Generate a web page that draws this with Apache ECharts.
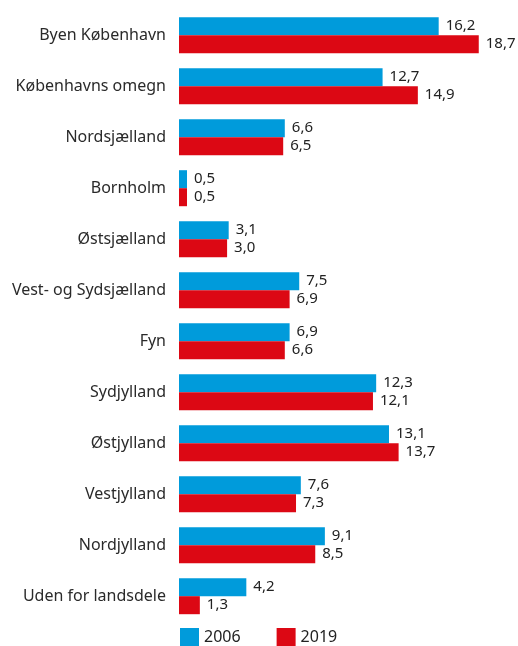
<!DOCTYPE html>
<html>
<head>
<meta charset="utf-8">
<script src="https://cdn.jsdelivr.net/npm/echarts@6/dist/echarts.min.js"></script>
<style>
html,body{margin:0;padding:0;background:#fff;}
#c{width:518px;height:646px;}
</style>
</head>
<body>
<div id="c"></div>
<script>
const categories = ["Byen København","Københavns omegn","Nordsjælland","Bornholm","Østsjælland","Vest- og Sydsjælland","Fyn","Sydjylland","Østjylland","Vestjylland","Nordjylland","Uden for landsdele"];
const values2006 = [16.2,12.7,6.6,0.5,3.1,7.5,6.9,12.3,13.1,7.6,9.1,4.2];
const values2019 = [18.7,14.9,6.5,0.5,3.0,6.9,6.6,12.1,13.7,7.3,8.5,1.3];
const seriesNames = ["2006","2019"];

const FONT = "Noto Sans";
const fmt = p => p.value.toFixed(1).replace('.', ',');
const chart = echarts.init(document.getElementById('c'), null, {renderer:'canvas'});
const labelCfg = {show:true, position:'right', distance:7, formatter:fmt, color:'#222', fontSize:15, fontFamily:FONT};
chart.setOption({
  animation:false,
  backgroundColor:'#fff',
  grid:{left:179, width:320.6, top:9.7, height:612},
  xAxis:{type:'value', min:0, max:20, show:false},
  yAxis:{type:'category', data:categories, inverse:true,
    axisLine:{show:false}, axisTick:{show:false}, splitLine:{show:false},
    axisLabel:{margin:13, color:'#2a2a2a', fontSize:16, fontFamily:FONT}},
  legend:{left:180, top:628, padding:0, itemWidth:19, itemHeight:18, itemGap:36, icon:'rect',
    textStyle:{fontSize:16, color:'#222', fontFamily:FONT}, data:seriesNames},
  series:[
    {name:seriesNames[0], type:'bar', data:values2006, barWidth:18, barGap:'0%', itemStyle:{color:'#009bdb'}, label:labelCfg},
    {name:seriesNames[1], type:'bar', data:values2019, barWidth:18, barGap:'0%', itemStyle:{color:'#dc0814'}, label:labelCfg}
  ]
});
</script>
</body>
</html>
